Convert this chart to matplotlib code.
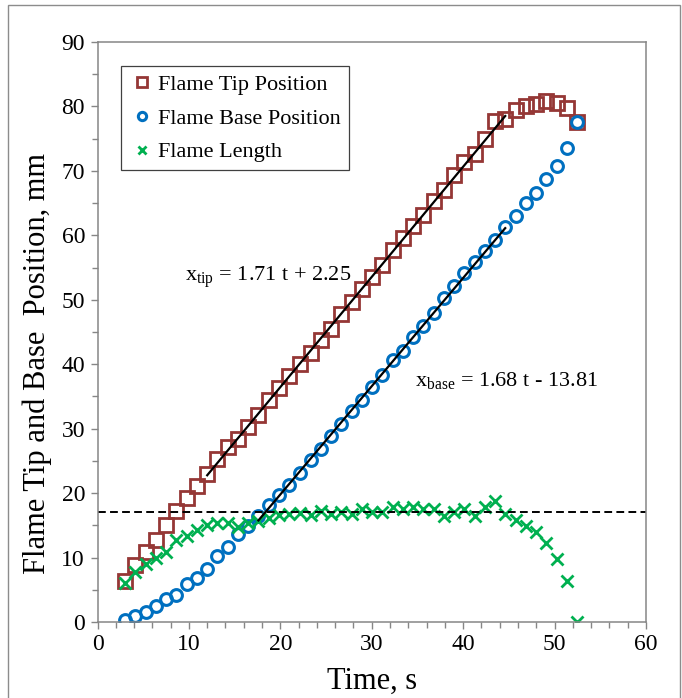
import matplotlib
matplotlib.use("Agg")
import matplotlib.pyplot as plt
from matplotlib.patches import Rectangle
from matplotlib.ticker import MultipleLocator
import numpy as np

plt.rcParams['font.family'] = ['Liberation Serif', 'DejaVu Serif']
plt.rcParams['mathtext.fontset'] = 'custom'
plt.rcParams['mathtext.rm'] = 'Liberation Serif'
plt.rcParams['mathtext.it'] = 'Liberation Serif:italic'

# data
time_s = [3.0, 4.1, 5.3, 6.4, 7.5, 8.6, 9.8, 10.9, 12.0, 13.1, 14.3, 15.4, 16.5, 17.6, 18.8,
          19.9, 21.0, 22.1, 23.3, 24.4, 25.5, 26.6, 27.8, 28.9, 30.0, 31.1, 32.3, 33.4, 34.5,
          35.6, 36.8, 37.9, 39.0, 40.1, 41.3, 42.4, 43.5, 44.6, 45.8, 46.9, 48.0, 49.1, 50.3,
          51.4, 52.5]
tip_pos = [6.3, 8.9, 10.8, 12.7, 15.0, 17.2, 19.2, 21.1, 22.9, 25.3, 27.1, 28.4, 30.2, 32.1,
           34.4, 36.3, 38.1, 40.0, 41.7, 43.8, 45.4, 47.8, 49.6, 51.7, 53.6, 55.4, 57.7, 59.6,
           61.5, 63.2, 65.4, 67.1, 69.3, 71.4, 72.6, 75.0, 77.7, 78.1, 79.4, 80.0, 80.4, 80.8,
           80.5, 79.8, 77.6]
base_pos = [0.3, 1.0, 1.6, 2.5, 3.5, 4.2, 5.9, 6.9, 8.3, 10.2, 11.6, 13.7, 14.9, 16.5, 18.2,
            19.7, 21.3, 23.1, 25.1, 26.9, 28.8, 30.8, 32.7, 34.5, 36.5, 38.3, 40.7, 42.0, 44.2,
            45.9, 47.9, 50.3, 52.1, 54.1, 55.8, 57.5, 59.3, 61.3, 63.0, 65.0, 66.6, 68.7, 70.8,
            73.6, 77.6]
flame_len = [6.0, 7.8, 9.0, 10.0, 10.9, 12.7, 13.4, 14.2, 15.1, 15.3, 15.4, 14.8, 15.3, 15.6,
             16.2, 16.6, 16.8, 16.9, 16.6, 17.3, 16.8, 17.1, 16.8, 17.5, 17.1, 17.1, 17.8, 17.5,
             17.8, 17.5, 17.5, 16.5, 17.1, 17.5, 16.4, 17.8, 18.7, 16.8, 15.9, 14.9, 13.9, 12.2,
             9.7, 6.3, 0.0]

# linear fits shown on the chart
tip_fit = (1.71, 2.25)
tip_fit_range = [12.0, 44.6]
base_fit = (1.68, -13.81)
base_fit_range = [17.6, 44.6]
mean_length = 17.0

fig = plt.figure(figsize=(6.82, 6.98), dpi=100)
fig.patches.append(Rectangle((8 / 682, -0.01), 672 / 682, 1 - 5 / 698 + 0.01,
                             transform=fig.transFigure, fill=False,
                             edgecolor='#8c8c8c', linewidth=1.0))
ax = fig.add_axes([97.5 / 682, 76 / 698, 548.5 / 682, 580 / 698])

ax.plot(time_s, tip_pos, 's', ms=9.8, mfc='none', mec='#953735', mew=2.0,
        label='Flame Tip Position')
ax.plot(time_s, base_pos, 'o', ms=8.5, mfc='none', mec='#0070C0', mew=2.2,
        label='Flame Base Position')
ax.plot(time_s, flame_len, 'x', ms=8.5, mec='#00B050', mew=2.0,
        label='Flame Length')

tt = np.array(tip_fit_range)
ax.plot(tt, tip_fit[0] * tt + tip_fit[1], color='black', lw=1.6)
tb = np.array(base_fit_range)
ax.plot(tb, base_fit[0] * tb + base_fit[1], color='black', lw=1.6)
ax.axhline(mean_length, color='black', lw=1.4, dashes=(4, 2.2))

ax.text(9.6, 52.9, r'x$_\mathregular{tip}$ = 1.71 t + 2.25', fontsize=16, va='baseline')
ax.text(34.7, 36.6, r'x$_\mathregular{base}$ = 1.68 t - 13.81', fontsize=16, va='baseline')

ax.set_xlim(0, 60)
ax.set_ylim(0, 90)
ax.xaxis.set_major_locator(MultipleLocator(10))
ax.xaxis.set_minor_locator(MultipleLocator(2))
ax.yaxis.set_major_locator(MultipleLocator(10))
ax.yaxis.set_minor_locator(MultipleLocator(5))
ax.tick_params(which='both', direction='out', color='#868686', labelsize=17)
ax.tick_params(which='major', length=5, width=1, pad=4)
ax.tick_params(which='minor', length=4, width=1)
for s in ax.spines.values():
    s.set_color('#868686')
    s.set_linewidth(1.1)

ax.set_xlabel('Time, s', fontsize=22, labelpad=8)
ax.set_ylabel('Flame Tip and Base  Position, mm', fontsize=22)
ax.yaxis.set_label_coords(-0.083, 0.445)

leg = ax.legend(loc='upper left', bbox_to_anchor=(0.043, 0.958), borderaxespad=0,
                fontsize=16, fancybox=False, edgecolor='#404040', markerscale=0.7,
                handlelength=1.2, handletextpad=0.12, labelspacing=0.6,
                borderpad=0.35, framealpha=1)
leg.get_frame().set_linewidth(0.9)

fig.savefig('out.png', dpi=100)
